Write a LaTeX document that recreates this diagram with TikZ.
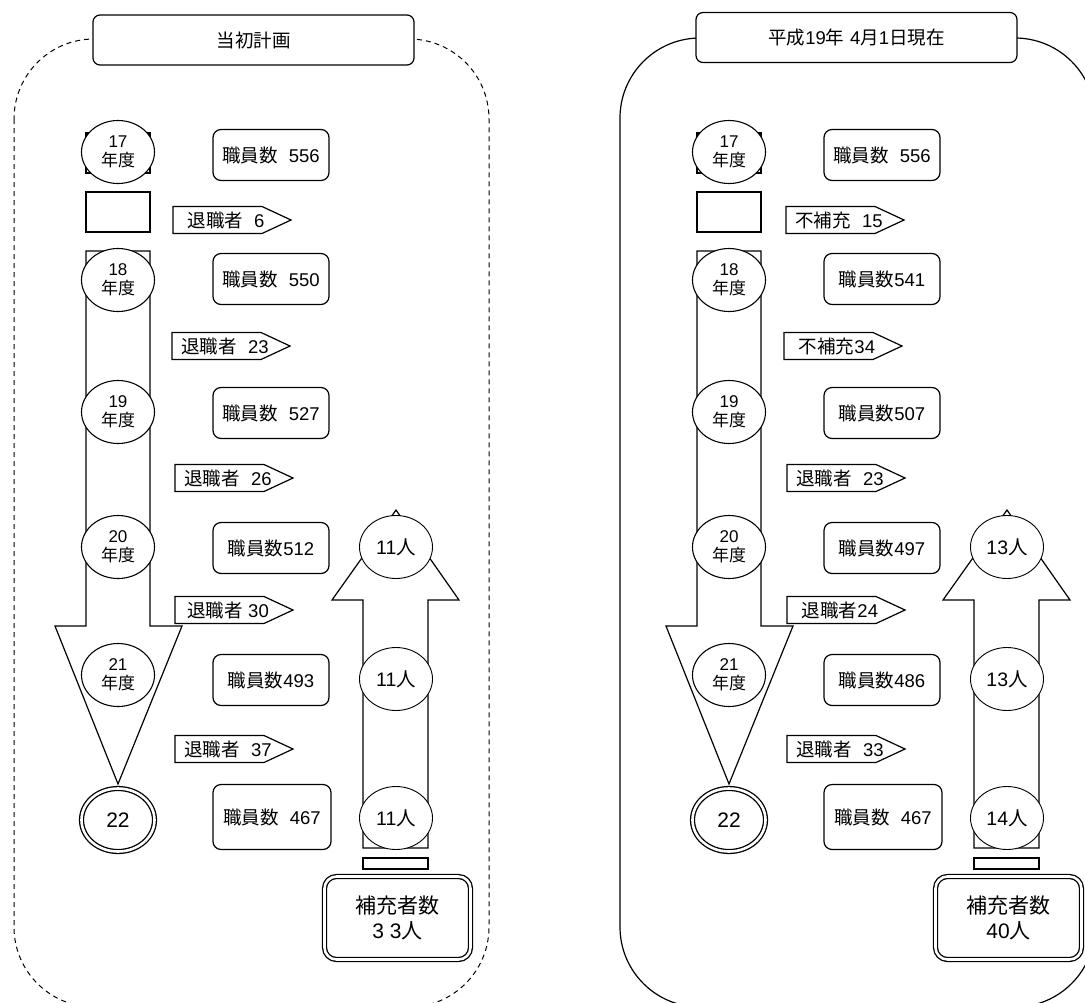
\documentclass[tikz,border=0pt]{standalone}
\usepackage{fontspec}
\setmainfont{Liberation Sans}
\newfontfamily\jp{Noto Sans CJK JP}
\usetikzlibrary{shapes.geometric}
\tikzset{
 ln/.style={line width=1.2pt},
 yr/.style={ellipse, draw, fill=white, line width=1.1pt, minimum width=73pt, minimum height=63pt, inner sep=0pt, align=center, font=\fontsize{17}{19}\selectfont},
 endyr/.style={ellipse, draw, double, double distance=2.6pt, line width=1.3pt, fill=white, minimum width=73pt, minimum height=63pt, inner sep=0pt, font=\fontsize{21}{24}\selectfont},
 ppl/.style={ellipse, draw, fill=white, line width=0.9pt, minimum width=73pt, minimum height=63pt, inner sep=0pt, font=\fontsize{19.5}{22}\selectfont},
 cnt/.style={draw, fill=white, rounded corners=8pt, line width=1.2pt, minimum width=116pt, minimum height=51pt, inner sep=0pt, font=\fontsize{18.5}{21}\selectfont},
 ttl/.style={draw, fill=white, rounded corners=7pt, line width=1.2pt, minimum width=321pt, minimum height=50pt, inner sep=0pt, font=\fontsize{18.5}{21}\selectfont},
 txt/.style={inner sep=0pt, font=\fontsize{18.5}{21}\selectfont},
 supbox/.style={draw, double, double distance=2.6pt, line width=1.3pt, fill=white, rounded corners=12pt, minimum width=146pt, minimum height=83pt, inner sep=0pt, align=center, font=\fontsize{21}{25}\selectfont},
}
\newcommand\gap{\hspace{0.6em}}
\newcommand\yrlab[1]{#1\\{\jp 年度}}
\newcommand\outflow[4]{%
  \draw[ln,fill=white] (#2,#3-13.5) -- ++(89,0) -- ++(29,13.5) -- ++(-29,13.5) -- ++(-89,0) -- cycle;
  \node[txt] (#1) at (#2+53,#3) {#4};}
\newcommand\skeleton{%
  \draw[ln, fill=white] (86,133) rectangle (150,173);
  \draw[ln, fill=white] (86,192) rectangle (150,232);
  \draw[ln, fill=white] (86,251) -- (150,251) -- (150,626) -- (182,626) -- (118,784) -- (55,626) -- (86,626) -- cycle;
  \draw[ln, fill=white] (363,848) -- (428,848) -- (428,600) -- (459,600) -- (396,510) -- (332,600) -- (363,600) -- cycle;
  \draw[ln, fill=white] (363,858) rectangle (428,869);}
\begin{document}
\begin{tikzpicture}[x=1pt,y=-1pt]
\useasboundingbox (0,0) rectangle (1085,1002);
\clip (0,0) rectangle (1085,1002);
\fill[white] (0,0) rectangle (1085,1002);
% ---------------- left panel ----------------
\draw[line width=1pt, dash pattern=on 5pt off 4pt, rounded corners=80pt] (14,39) rectangle (489,1007);
\node[ttl] (Lt) at (253.5,40) {{\jp 当初計画}};
\skeleton
\node[yr] (Ly17) at (118,152) {\yrlab{17}};
\node[yr] (Ly18) at (118,280) {\yrlab{18}};
\node[yr] (Ly19) at (118,412) {\yrlab{19}};
\node[yr] (Ly20) at (118,547) {\yrlab{20}};
\node[yr] (Ly21) at (118,675) {\yrlab{21}};
\node[endyr] (Ly22) at (118,820) {22};
\node[cnt] (Lc17) at (271,155) {{\jp 職員数}\gap 556};
\node[cnt] (Lc18) at (271,279) {{\jp 職員数}\gap 550};
\node[cnt] (Lc19) at (271,413) {{\jp 職員数}\gap 527};
\node[cnt] (Lc20) at (271,548) {{\jp 職員数}512};
\node[cnt] (Lc21) at (271,680) {{\jp 職員数}493};
\node[cnt, minimum width=118pt, minimum height=65pt] (Lc22) at (272,817) {{\jp 職員数}\gap 467};
\outflow{Lo1}{173}{220}{{\jp 退職者}\gap 6}
\outflow{Lo2}{172}{346}{{\jp 退職者}\gap 23}
\outflow{Lo3}{175}{478}{{\jp 退職者}\gap 26}
\outflow{Lo4}{175}{610}{{\jp 退職者}\hspace{0.3em}30}
\outflow{Lo5}{175}{749}{{\jp 退職者}\gap 37}
\node[ppl] (Lp1) at (396,547) {11{\jp 人}};
\node[ppl] (Lp2) at (396,679) {11{\jp 人}};
\node[ppl] (Lp3) at (396,818) {11{\jp 人}};
\node[supbox] (Ls) at (397.5,918) {{\jp 補充者数}\\3 3{\jp 人}};
% ---------------- right panel ----------------
\draw[line width=1.2pt, rounded corners=80pt] (620,38) rectangle (1095,1007);
\node[ttl] (Rt) at (856.5,37.5) {{\jp 平成}19{\jp 年}\hspace{0.3em}4{\jp 月}1{\jp 日現在}};
\begin{scope}[xshift=611pt]
\skeleton
\node[yr] (Ry17) at (118,152) {\yrlab{17}};
\node[yr] (Ry18) at (118,280) {\yrlab{18}};
\node[yr] (Ry19) at (118,412) {\yrlab{19}};
\node[yr] (Ry20) at (118,547) {\yrlab{20}};
\node[yr] (Ry21) at (118,675) {\yrlab{21}};
\node[endyr] (Ry22) at (118,820) {22};
\node[cnt] (Rc17) at (271,155) {{\jp 職員数}\gap 556};
\node[cnt] (Rc18) at (271,279) {{\jp 職員数}541};
\node[cnt] (Rc19) at (271,413) {{\jp 職員数}507};
\node[cnt] (Rc20) at (271,548) {{\jp 職員数}497};
\node[cnt] (Rc21) at (271,680) {{\jp 職員数}486};
\node[cnt, minimum width=118pt, minimum height=65pt] (Rc22) at (272,817) {{\jp 職員数}\gap 467};
\outflow{Ro1}{175}{220}{{\jp 不補充}\gap 15}
\outflow{Ro2}{173}{346}{{\jp 不補充}34}
\outflow{Ro3}{176}{478}{{\jp 退職者}\gap 23}
\outflow{Ro4}{176}{610}{{\jp 退職者}24}
\outflow{Ro5}{176}{749}{{\jp 退職者}\gap 33}
\node[ppl] (Rp1) at (396,547) {13{\jp 人}};
\node[ppl] (Rp2) at (396,679) {13{\jp 人}};
\node[ppl] (Rp3) at (396,818) {14{\jp 人}};
\node[supbox] (Rs) at (397.5,918) {{\jp 補充者数}\\40{\jp 人}};
\end{scope}
\end{tikzpicture}
\end{document}
